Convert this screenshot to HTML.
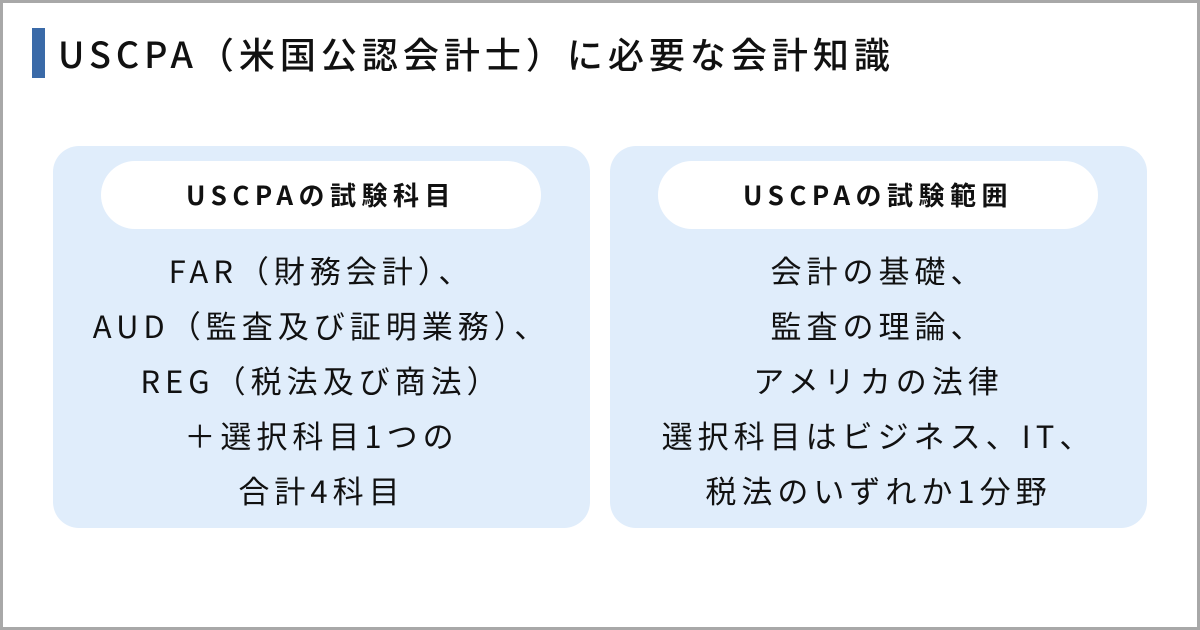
<!DOCTYPE html>
<html><head><meta charset="utf-8"><style>
*{margin:0;padding:0;box-sizing:border-box}
body{width:1200px;height:630px;background:#fff;position:relative;overflow:hidden;font-family:"Noto Sans CJK JP","Liberation Sans",sans-serif;color:#111}
.frame{position:absolute;left:0;top:0;width:1200px;height:630px;border:3px solid #a8a8a8}
.bar{position:absolute;left:32px;top:28px;width:13px;height:50px;background:#3a6aa8}
.title{position:absolute;left:58px;top:28px;height:50px;line-height:50px;font-size:36px;font-weight:500;white-space:nowrap;letter-spacing:5px}
.panel{position:absolute;top:146px;width:537px;height:382px;background:#e0edfb;border-radius:26px}
.pill{position:absolute;left:48px;top:15px;width:440px;height:68px;background:#fff;border-radius:34px;text-align:center;line-height:68px;font-size:26px;font-weight:700;letter-spacing:5.5px}
.body{position:absolute;left:0;top:96px;width:100%;text-align:center;font-size:31px;line-height:55px;white-space:nowrap;letter-spacing:5px}
</style></head><body>
<div class="frame"></div>
<div class="bar"></div>
<div class="title">USCPA（米国公認会計士）に必要な会計知識</div>
<div class="panel" style="left:53px">
<div class="pill">USCPAの試験科目</div>
<div class="body">FAR（財務会計）、<br>AUD（監査及び証明業務）、<br>REG（税法及び商法）<br>＋選択科目1つの<br>合計4科目</div>
</div>
<div class="panel" style="left:610px">
<div class="pill">USCPAの試験範囲</div>
<div class="body">会計の基礎、<br>監査の理論、<br>アメリカの法律<br>選択科目はビジネス、IT、<br>税法のいずれか1分野</div>
</div>
</body></html>
